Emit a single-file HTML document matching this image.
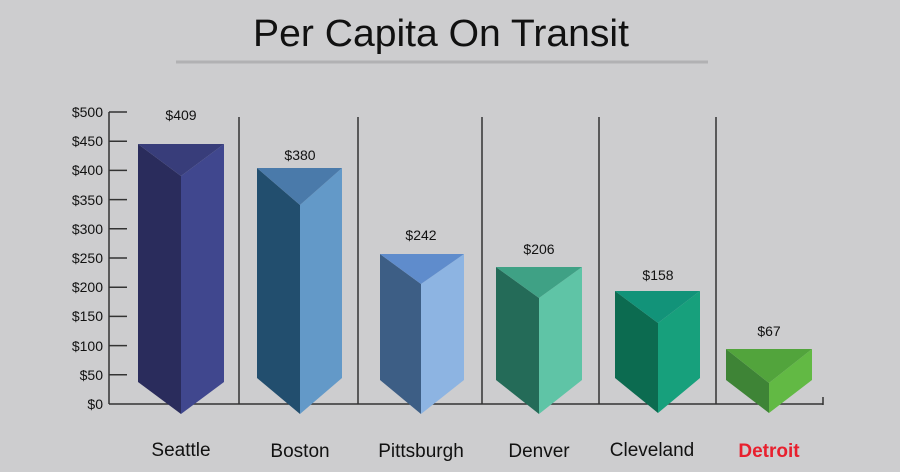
<!DOCTYPE html>
<html><head><meta charset="utf-8"><style>html,body{margin:0;padding:0;background:#cdcdcf}svg{display:block}</style></head><body>
<svg width="900" height="472" viewBox="0 0 900 472" xmlns="http://www.w3.org/2000/svg" font-family="Liberation Sans, sans-serif">
<rect width="900" height="472" fill="#cdcdcf"/>
<text x="441" y="46" font-size="38" text-anchor="middle" fill="#111" textLength="376" lengthAdjust="spacingAndGlyphs">Per Capita On Transit</text>
<line x1="176" y1="62" x2="708" y2="62" stroke="#b1b1b3" stroke-width="3"/>
<g stroke="#333" stroke-width="1.5">
<line x1="109" y1="112" x2="109" y2="404"/>
<line x1="109" y1="404" x2="823" y2="404"/>
<line x1="823" y1="397" x2="823" y2="405"/>
<line x1="239" y1="117" x2="239" y2="404"/>
<line x1="358" y1="117" x2="358" y2="404"/>
<line x1="482" y1="117" x2="482" y2="404"/>
<line x1="599" y1="117" x2="599" y2="404"/>
<line x1="716" y1="117" x2="716" y2="404"/>
<line x1="109" y1="112" x2="127" y2="112"/><line x1="109" y1="141.2" x2="127" y2="141.2"/><line x1="109" y1="170.4" x2="127" y2="170.4"/><line x1="109" y1="199.6" x2="127" y2="199.6"/><line x1="109" y1="228.8" x2="127" y2="228.8"/><line x1="109" y1="258" x2="127" y2="258"/><line x1="109" y1="287.2" x2="127" y2="287.2"/><line x1="109" y1="316.4" x2="127" y2="316.4"/><line x1="109" y1="345.6" x2="127" y2="345.6"/><line x1="109" y1="374.8" x2="127" y2="374.8"/>
</g>
<g font-size="14" fill="#111" text-anchor="end">
<text x="103" y="117">$500</text><text x="103" y="146">$450</text><text x="103" y="175">$400</text><text x="103" y="205">$350</text><text x="103" y="234">$300</text><text x="103" y="263">$250</text><text x="103" y="292">$200</text><text x="103" y="321">$150</text><text x="103" y="351">$100</text><text x="103" y="380">$50</text><text x="103" y="409">$0</text>
</g>
<!-- Seattle -->
<polygon points="138,144 181,176 181,414 138,382" fill="#2a2c5c"/>
<polygon points="181,176 224,144 224,382 181,414" fill="#40478e"/>
<polygon points="138,144 224,144 181,176" fill="#383d7a"/>
<!-- Boston -->
<polygon points="257,168 300,205 300,414 257,378" fill="#224e6e"/>
<polygon points="300,205 342,168 342,378 300,414" fill="#6399c8"/>
<polygon points="257,168 342,168 300,205" fill="#4a7aaa"/>
<!-- Pittsburgh -->
<polygon points="380,254 421,284 421,414 380,380" fill="#3d5e85"/>
<polygon points="421,284 464,254 464,380 421,414" fill="#8db4e2"/>
<polygon points="380,254 464,254 421,284" fill="#5f8ccc"/>
<!-- Denver -->
<polygon points="496,267 539,298 539,414 496,380" fill="#246b58"/>
<polygon points="539,298 582,267 582,380 539,414" fill="#5fc4a6"/>
<polygon points="496,267 582,267 539,298" fill="#3fa185"/>
<!-- Cleveland -->
<polygon points="615,291 658,323 658,413 615,378" fill="#0c6b50"/>
<polygon points="658,323 700,291 700,378 658,413" fill="#17a07c"/>
<polygon points="615,291 700,291 658,323" fill="#129379"/>
<!-- Detroit -->
<polygon points="726,349 769,383 769,413 726,380" fill="#3e8436"/>
<polygon points="769,383 812,349 812,380 769,413" fill="#62b944"/>
<polygon points="726,349 812,349 769,383" fill="#52a43c"/>
<g font-size="14" fill="#111" text-anchor="middle">
<text x="181" y="120">$409</text><text x="300" y="160">$380</text><text x="421" y="240">$242</text><text x="539" y="254">$206</text><text x="658" y="280">$158</text><text x="769" y="336">$67</text>
</g>
<g font-size="19" fill="#111" text-anchor="middle">
<text x="181" y="456">Seattle</text><text x="300" y="457">Boston</text><text x="421" y="457">Pittsburgh</text><text x="539" y="457">Denver</text><text x="652" y="456">Cleveland</text>
<text x="769" y="457" fill="#e8202e" font-weight="bold">Detroit</text>
</g>
</svg>
</body></html>
